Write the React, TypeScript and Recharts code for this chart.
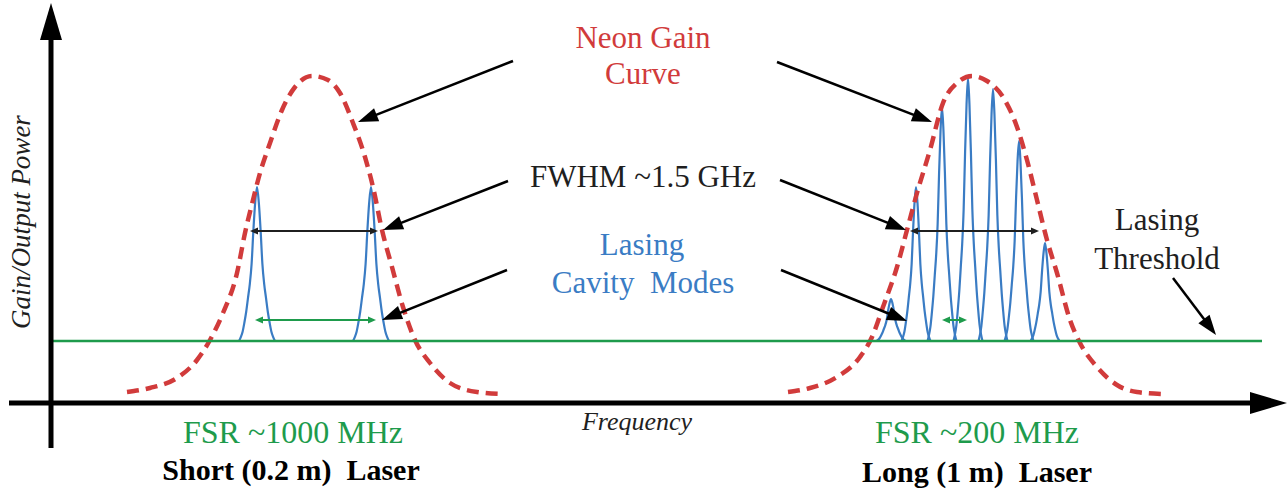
import { ComposedChart, Line, XAxis, YAxis, ReferenceLine, ReferenceDot } from 'recharts';

// frequency in arbitrary units, gain in arbitrary units
const SHORT_GAIN_X = [7.6, 9.9, 12.6, 14.6, 15.9, 17.2, 18.6, 19.4, 20.2, 20.9, 21.9, 23.1, 24.4, 26.1, 27.7, 28.9, 30.2, 31.4, 32.2, 33.1, 34.1, 35.2, 36.4, 37.9, 39.9, 42.6, 45.1];
const SHORT_GAIN_Y = [2.75, 3.75, 6.25, 10.75, 15.75, 22.5, 32.5, 42.5, 50.75, 57.5, 65, 73.25, 79, 81.75, 80.75, 77.5, 70, 61.5, 54, 43.25, 34, 24, 15.75, 10, 5, 2.75, 2.25];

const LONG_GAIN_X = [73.7, 75.9, 78.6, 80.9, 82.1, 83.2, 84.6, 85.6, 86.6, 87.9, 89.2, 90.6, 92.1, 93.6, 95.2, 96.6, 97.6, 98.6, 99.6, 100.6, 101.9, 102.9, 104.6, 106.6, 108.6, 111.1];
const LONG_GAIN_Y = [2.75, 3.75, 6.5, 11.5, 16.5, 24, 34, 43.25, 52.5, 63.25, 75, 80, 81.75, 80.5, 76.5, 69, 60.75, 50.75, 40.75, 32.5, 20.75, 15, 9, 4.5, 2.75, 2.25];

const THRESHOLD = 15.5;
const THRESHOLD_END = 121.1;

const SHORT_MODE_CENTERS = [20.6, 32.0];
const SHORT_MODE_PEAKS = [54, 54];
const SHORT_MODE_HALF = 1.8;

const LONG_MODE_CENTERS = [84.0, 86.5, 89.1, 91.7, 94.2, 96.8, 99.4];
const LONG_MODE_PEAKS = [26, 54, 74, 81.25, 78.5, 65.5, 40];
const LONG_MODE_HALF = 1.45;

// shape of one cavity mode (offset as share of half base width, height as share of peak)
const MODE_OFFSETS = [-1, -0.9, -0.8, -0.7, -0.6, -0.5, -0.4, -0.3, -0.2, -0.1, 0, 0.1, 0.2, 0.3, 0.4, 0.5, 0.6, 0.7, 0.8, 0.9, 1];
const MODE_SHAPE = [0, 0.025, 0.06, 0.12, 0.19, 0.28, 0.37, 0.5, 0.72, 0.9, 1, 0.9, 0.72, 0.5, 0.37, 0.28, 0.19, 0.12, 0.06, 0.025, 0];

const RED = '#d13b3b';
const BLUE = '#3a7cc4';
const GREEN = '#1e9b4c';
const INK = '#1f1f1f';

const zip = (xs: number[], ys: number[]) => xs.map((x, i) => ({ x, y: ys[i] }));

const modeData = (c: number, peak: number, half: number) =>
  MODE_OFFSETS.map((o, k) => ({ x: c + o * half, y: THRESHOLD + MODE_SHAPE[k] * (peak - THRESHOLD) }));

type ArrowOpts = { color: string; width: number; head: number; half: number; both?: boolean };

const arrow = (o: ArrowOpts) => (p: any) => {
  const { x1, y1, x2, y2 } = p;
  const len = Math.hypot(x2 - x1, y2 - y1) || 1;
  const ux = (x2 - x1) / len;
  const uy = (y2 - y1) / len;
  const tri = (tx: number, ty: number, d: number) => {
    const bx = tx - d * ux * o.head;
    const by = ty - d * uy * o.head;
    return `${tx},${ty} ${bx - uy * o.half},${by + ux * o.half} ${bx + uy * o.half},${by - ux * o.half}`;
  };
  const sx = o.both ? x1 + ux * o.head * 0.7 : x1;
  const sy = o.both ? y1 + uy * o.head * 0.7 : y1;
  return (
    <g>
      <line x1={sx} y1={sy} x2={x2 - ux * o.head * 0.7} y2={y2 - uy * o.head * 0.7} stroke={o.color} strokeWidth={o.width} />
      <polygon points={tri(x2, y2, 1)} fill={o.color} />
      {o.both && <polygon points={tri(x1, y1, -1)} fill={o.color} />}
    </g>
  );
};

const AXIS = arrow({ color: '#000', width: 5, head: 37, half: 11 });
const POINTER = arrow({ color: '#000', width: 2.5, head: 20, half: 7 });
const SPAN = arrow({ color: INK, width: 2, head: 8, half: 3.5, both: true });
const FSR_SPAN = arrow({ color: GREEN, width: 2, head: 8, half: 3.5, both: true });

const seg = (x1: number, y1: number, x2: number, y2: number, shape: any, key: string) => (
  <ReferenceLine key={key} segment={[{ x: x1, y: y1 }, { x: x2, y: y2 }]} shape={shape} ifOverflow="visible" />
);

const label = (
  text: string, x: number, y: number, color: string,
  opts: { size?: number; bold?: boolean; italic?: boolean; rotate?: boolean } = {},
) => (
  <ReferenceDot
    key={text + x + y}
    x={x}
    y={y}
    r={1}
    ifOverflow="visible"
    shape={(p: any) => (
      <text
        x={p.cx}
        y={p.cy}
        textAnchor="middle"
        fill={color}
        fontFamily="Liberation Serif"
        fontSize={opts.size ?? 31}
        fontWeight={opts.bold ? 'bold' : undefined}
        fontStyle={opts.italic ? 'italic' : undefined}
        transform={opts.rotate ? `rotate(-90 ${p.cx} ${p.cy})` : undefined}
      >
        {text}
      </text>
    )}
  />
);

export default function App() {
  return (
    <div style={{ position: 'absolute', left: 0, top: 0, background: '#fff' }}>
      <ComposedChart width={1288} height={491} margin={{ top: 0, right: 0, bottom: 0, left: 0 }}>
        <XAxis type="number" dataKey="x" domain={[-5.1, 123.7]} allowDataOverflow hide />
        <YAxis type="number" dataKey="y" domain={[-22, 100.75]} allowDataOverflow hide />

        {SHORT_MODE_CENTERS.map((c, i) => (
          <Line key={'s' + i} data={modeData(c, SHORT_MODE_PEAKS[i], SHORT_MODE_HALF)} dataKey="y" type="monotone"
            stroke={BLUE} strokeWidth={2.2} dot={false} activeDot={false} isAnimationActive={false} />
        ))}
        {LONG_MODE_CENTERS.map((c, i) => (
          <Line key={'l' + i} data={modeData(c, LONG_MODE_PEAKS[i], LONG_MODE_HALF)} dataKey="y" type="monotone"
            stroke={BLUE} strokeWidth={2.2} dot={false} activeDot={false} isAnimationActive={false} />
        ))}

        <Line data={zip(SHORT_GAIN_X, SHORT_GAIN_Y)} dataKey="y" type="monotone" stroke={RED} strokeWidth={4.5}
          strokeDasharray="12 7" dot={false} activeDot={false} isAnimationActive={false} />
        <Line data={zip(LONG_GAIN_X, LONG_GAIN_Y)} dataKey="y" type="monotone" stroke={RED} strokeWidth={4.5}
          strokeDasharray="12 7" dot={false} activeDot={false} isAnimationActive={false} />

        <ReferenceLine segment={[{ x: 0, y: THRESHOLD }, { x: THRESHOLD_END, y: THRESHOLD }]} stroke={GREEN} strokeWidth={2.4} ifOverflow="visible" />

        {seg(0, -11.25, 0, 100, AXIS, 'ay')}
        {seg(-4.2, 0, 123.6, 0, AXIS, 'ax')}

        {seg(46.2, 85.5, 30.7, 70.25, POINTER, 'p1')}
        {seg(72.6, 85.25, 88.1, 70.25, POINTER, 'p2')}
        {seg(45.7, 55.5, 33.2, 43.25, POINTER, 'p3')}
        {seg(72.9, 55.75, 85.5, 43.25, POINTER, 'p4')}
        {seg(45.6, 33.25, 33.1, 20.75, POINTER, 'p5')}
        {seg(73.0, 33.25, 85.6, 20.5, POINTER, 'p6')}
        {seg(112.2, 31.25, 116.5, 17, POINTER, 'p7')}

        {seg(19.9, 43, 32.7, 43, SPAN, 'f1')}
        {seg(85.9, 43, 98.8, 43, SPAN, 'f2')}
        {seg(SHORT_MODE_CENTERS[0] - 0.2, 20.75, SHORT_MODE_CENTERS[1] + 0.5, 20.75, FSR_SPAN, 'g1')}
        {seg(LONG_MODE_CENTERS[2], 20.75, LONG_MODE_CENTERS[3] - 0.1, 20.75, FSR_SPAN, 'g2')}

        {label('Neon Gain', 59.2, 88.75, RED)}
        {label('Curve', 59.2, 79.75, RED)}
        {label('FWHM ~1.5 GHz', 59.2, 54, INK)}
        {label('Lasing', 59.1, 37, BLUE)}
        {label('Cavity\u00a0 Modes', 59.2, 27.5, BLUE)}
        {label('Lasing', 110.6, 43.25, INK)}
        {label('Threshold', 110.6, 33.5, INK)}
        {label('Frequency', 58.6, -6.75, INK, { size: 26, italic: true })}
        {label('FSR ~1000 MHz', 24.2, -10, GREEN, { size: 32 })}
        {label('Short (0.2 m)\u00a0 Laser', 24.0, -19.25, '#000', { size: 30, bold: true })}
        {label('FSR ~200 MHz', 92.6, -10, GREEN, { size: 32 })}
        {label('Long (1 m)\u00a0 Laser', 92.6, -19.75, '#000', { size: 30, bold: true })}
        {label('Gain/Output Power', -2.1, 45.25, INK, { size: 27, italic: true, rotate: true })}
      </ComposedChart>
    </div>
  );
}
